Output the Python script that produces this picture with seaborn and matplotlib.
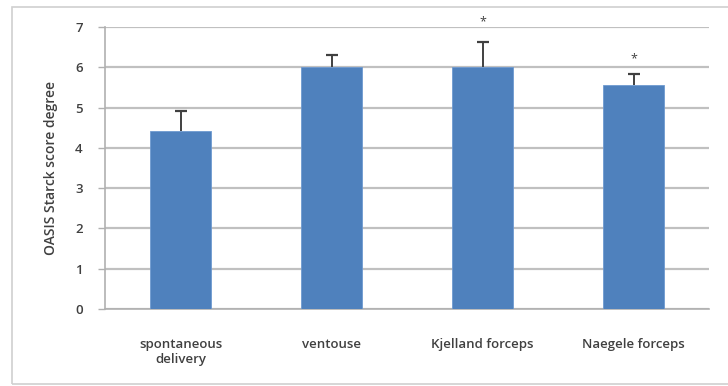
import matplotlib
matplotlib.use("Agg")
import matplotlib.pyplot as plt
import seaborn as sns
import pandas as pd
import numpy as np
from matplotlib.patches import Rectangle

# Mean OASIS Starck score by mode of delivery
categories = ["spontaneous\ndelivery", "ventouse", "Kjelland forceps", "Naegele forceps"]
scores = [4.43, 6.0, 6.0, 5.55]
errors_up = [0.48, 0.30, 0.62, 0.28]
star_marks = ["", "", "*", "*"]
star_heights = [0, 0, 7.13, 6.22]
y_ticks = [0, 1, 2, 3, 4, 5, 6, 7]

sns.set_theme(style="white")
plt.rcParams["font.family"] = ["Open Sans", "DejaVu Sans"]

W, H = 728, 386
fig = plt.figure(figsize=(W / 100, H / 100), dpi=100)
ax = fig.add_axes([105 / W, 1 - 309 / H, (709 - 105) / W, (309 - 27) / H])

df = pd.DataFrame({"group": categories, "score": scores})
sns.barplot(data=df, x="group", y="score", color="#4f81bd", saturation=1,
            width=0.4, errorbar=None, ax=ax, zorder=3,
            edgecolor="#6f9ad0", linewidth=0.6)

xpos = np.arange(len(categories))
_, caps, _ = ax.errorbar(xpos, scores, yerr=[np.zeros(len(scores)), errors_up], fmt="none",
                         ecolor="#404040", elinewidth=1.4, capsize=4, capthick=1.6, zorder=4)
# only the upper half of each error bar is shown
caps[0].set_visible(False)

for x, s, h in zip(xpos, star_marks, star_heights):
    if s:
        ax.text(x, h, s, ha="center", va="center", fontsize=9, color="#404040", zorder=5)

ax.set_ylim(0, 7)
ax.set_xlim(-0.5, len(categories) - 0.5)
ax.set_yticks(y_ticks)
ax.yaxis.grid(True, color="#c0c0c0", linewidth=1.6, zorder=0)
ax.set_axisbelow(True)

for side in ["top", "right"]:
    ax.spines[side].set_visible(False)
for side in ["left", "bottom"]:
    ax.spines[side].set_color("#b0b0b0")
    ax.spines[side].set_linewidth(1.2)

# category boundary ticks on the x axis
ax.set_xticks(np.arange(-0.5, len(categories), 1.0), minor=True)
ax.tick_params(axis="x", which="minor", length=5, width=1.0, color="#b0b0b0", direction="out")
ax.tick_params(axis="x", which="major", length=0, pad=21, labelsize=9.5, labelcolor="#404040")
ax.tick_params(axis="y", which="major", length=5, width=1.0, color="#b0b0b0",
               direction="out", pad=11, labelsize=9.5, labelcolor="#404040", left=True)
for lab in ax.get_xticklabels() + ax.get_yticklabels():
    lab.set_fontweight("semibold")

ax.set_xlabel("")
ax.set_ylabel("OASIS Starck score degree", fontsize=10, fontweight="semibold",
              color="#404040", labelpad=12)

# chart area frame
fig.patches.append(Rectangle((12 / W, 2 / H), (W + 10) / W, (H - 9) / H,
                             transform=fig.transFigure, fill=False,
                             edgecolor="#d0d0d0", linewidth=1.2))

fig.savefig("out.png", dpi=100)
